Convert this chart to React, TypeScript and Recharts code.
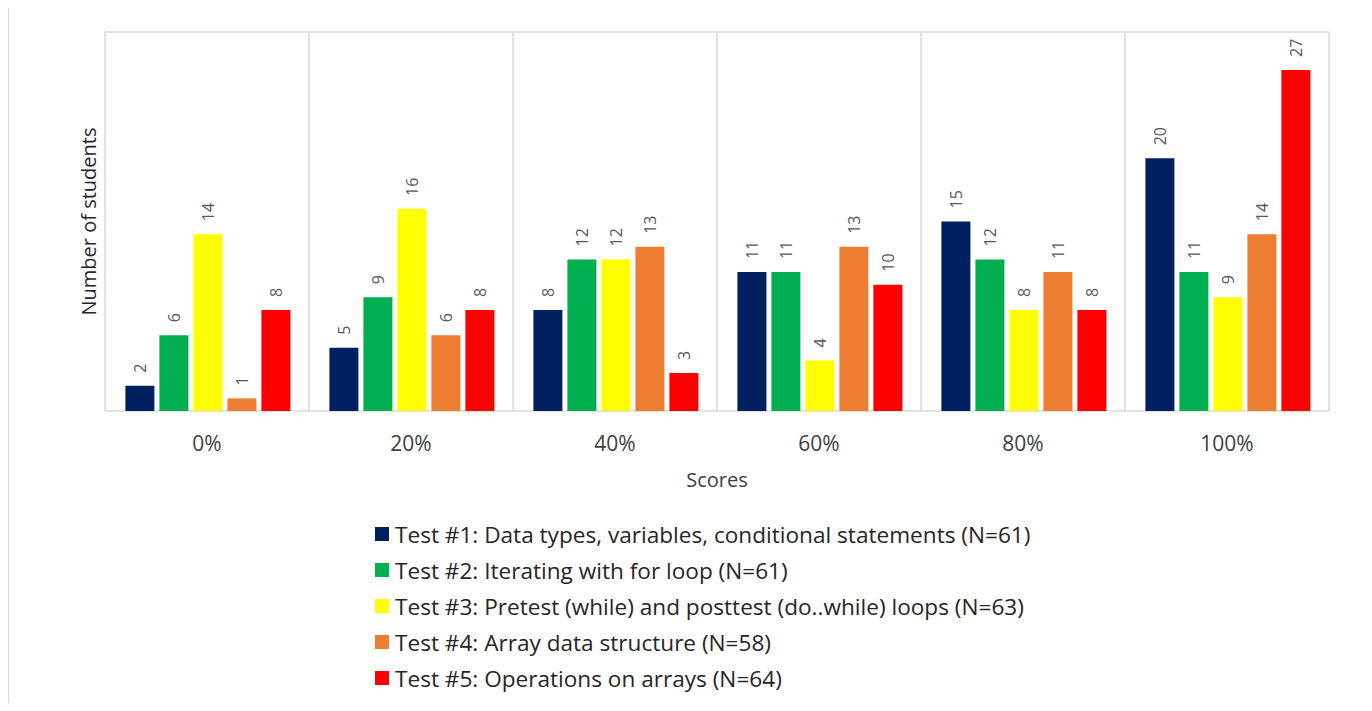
import React from "react";
import { BarChart, Bar, XAxis, YAxis, CartesianGrid, Legend, LabelList } from "recharts";

const scores = ["0%", "20%", "40%", "60%", "80%", "100%"];
const test1 = [2, 5, 8, 11, 15, 20];
const test2 = [6, 9, 12, 11, 12, 11];
const test3 = [14, 16, 12, 4, 8, 9];
const test4 = [1, 6, 13, 13, 11, 14];
const test5 = [8, 8, 3, 10, 8, 27];

const SERIES = [
  { key: "t1", name: "Test #1: Data types, variables, conditional statements (N=61)", color: "#002060", values: test1 },
  { key: "t2", name: "Test #2: Iterating with for loop (N=61)", color: "#00b050", values: test2 },
  { key: "t3", name: "Test #3: Pretest (while) and posttest (do..while) loops (N=63)", color: "#ffff00", values: test3 },
  { key: "t4", name: "Test #4: Array data structure (N=58)", color: "#ed7d31", values: test4 },
  { key: "t5", name: "Test #5: Operations on arrays (N=64)", color: "#ff0000", values: test5 },
];

const data = scores.map((score, i) => {
  const row: Record<string, string | number> = { score };
  SERIES.forEach((s) => {
    row[s.key] = s.values[i];
  });
  return row;
});

const FONT = "'Open Sans', sans-serif";

function BarValueLabel(props: any) {
  const { x, y, width, value } = props;
  const cx = x + width / 2;
  const cy = y - 13;
  return (
    <text
      x={cx}
      y={cy}
      transform={`rotate(-90 ${cx} ${cy})`}
      textAnchor="start"
      dominantBaseline="central"
      fontSize={16}
      fontFamily={FONT}
      fill="#595959"
    >
      {value}
    </text>
  );
}

function LegendBlock() {
  return (
    <div style={{ fontFamily: FONT, fontSize: 22.6, color: "#262626", whiteSpace: "nowrap" }}>
      {SERIES.map((s) => (
        <div key={s.key} style={{ display: "flex", alignItems: "center", height: 36 }}>
          <span style={{ display: "inline-block", width: 14, height: 14, background: s.color, marginRight: 6 }} />
          <span>{s.name}</span>
        </div>
      ))}
    </div>
  );
}

export default function App() {
  return (
    <div style={{ position: "relative", width: 1361, height: 695 }}>
      <BarChart
        width={1359}
        height={700}
        data={data}
        margin={{ top: 25, right: 39, left: 0, bottom: 206 }}
        barCategoryGap="10%"
        barGap={5}
        style={{ position: "absolute", left: 1, top: -1 }}
      >
        <CartesianGrid
          stroke="#d9d9d9"
          strokeWidth={1.5}
          verticalCoordinatesGenerator={({ offset }: any) =>
            scores.map((_, i) => offset.left + (i * offset.width) / scores.length).concat(offset.left + offset.width)
          }
          horizontalCoordinatesGenerator={({ offset }: any) => [offset.top, offset.top + offset.height]}
        />
        <XAxis
          dataKey="score"
          axisLine={false}
          tickLine={false}
          tickMargin={19}
          height={90}
          tick={{ fontSize: 21, fontFamily: FONT, fill: "#404040" }}
          label={{
            content: (p: any) => {
              const vb = p.viewBox;
              return (
                <text
                  x={vb.x + vb.width / 2}
                  y={vb.y + 76}
                  textAnchor="middle"
                  fontSize={20}
                  fontFamily={FONT}
                  fill="#404040"
                >
                  Scores
                </text>
              );
            },
          }}
        />
        <YAxis
          width={96}
          domain={[0, 30]}
          tick={false}
          axisLine={false}
          tickLine={false}
          label={{
            content: (p: any) => {
              const vb = p.viewBox;
              const lx = vb.x + vb.width - 17;
              const ly = vb.y + vb.height / 2;
              return (
                <text
                  x={lx}
                  y={ly}
                  transform={`rotate(-90 ${lx} ${ly})`}
                  textAnchor="middle"
                  dominantBaseline="central"
                  fontSize={20}
                  fontFamily={FONT}
                  fill="#262626"
                >
                  Number of students
                </text>
              );
            },
          }}
        />
        <Legend
          layout="vertical"
          align="center"
          verticalAlign="middle"
          wrapperStyle={{ top: 509, left: 366, width: 900 }}
          content={() => <LegendBlock />}
        />
        {SERIES.map((s) => (
          <Bar key={s.key} dataKey={s.key} name={s.name} fill={s.color} isAnimationActive={false}>
            <LabelList dataKey={s.key} content={<BarValueLabel />} />
          </Bar>
        ))}
      </BarChart>
      <div
        style={{
          position: "absolute",
          left: 0,
          top: -2,
          width: 1359,
          height: 720,
          border: "1px solid #d9d9d9",
          pointerEvents: "none",
        }}
      />
    </div>
  );
}
